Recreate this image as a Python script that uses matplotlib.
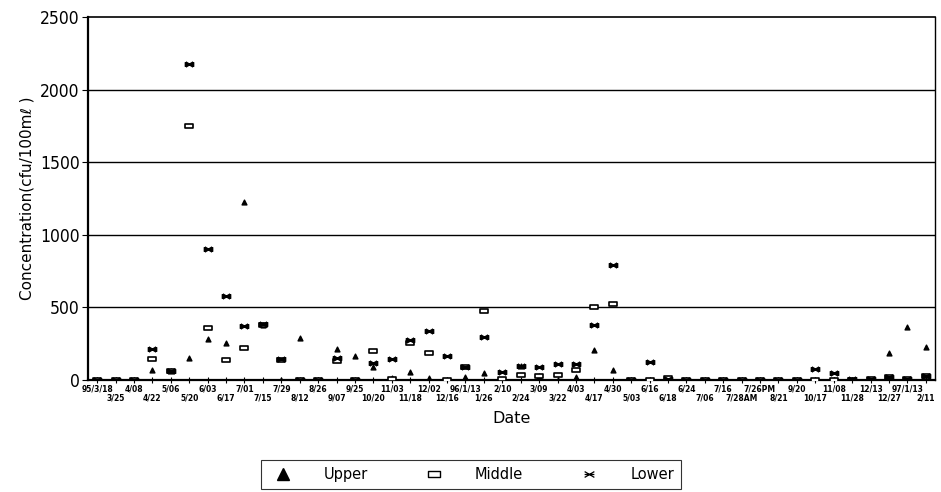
import matplotlib
matplotlib.use("Agg")
import matplotlib.pyplot as plt
from matplotlib.path import Path
import numpy as np

dates = ["95/3/18", "3/25", "4/08", "4/22", "5/06", "5/20", "6/03", "6/17", "7/01", "7/15",
         "7/29", "8/12", "8/26", "9/07", "9/25", "10/20", "11/03", "11/18", "12/02", "12/16",
         "96/1/13", "1/26", "2/10", "2/24", "3/09", "3/22", "4/03", "4/17", "4/30", "5/03",
         "6/16", "6/18", "6/24", "7/06", "7/16", "7/28AM", "7/26PM", "8/21", "9/20", "10/17",
         "11/08", "11/28", "12/13", "12/27", "97/1/13", "2/11"]

upper = [0, 0, 0, 69, 64, 149, 282, 253, 1225, 382,
         0, 291, 0, 216, 165, 90, 15, 55, 12, 3,
         23, 50, 0, 99, 30, 0, 23, 204, 67, 0,
         0, 0, 0, 0, 0, 0, 0, 0, 0, 0,
         0, 0, 0, 184, 367, 229]

middle = [0, 0, 0, 142, 64, 1750, 360, 136, 220, 382,
          140, 0, 0, 131, 0, 200, 10, 253, 188, 3,
          92, 477, 7, 34, 30, 34, 67, 503, 521, 0,
          0, 12, 0, 0, 0, 0, 0, 0, 0, 0,
          0, 3, 8, 23, 9, 30]

lower = [0, 0, 0, 211, 64, 2175, 900, 578, 375, 385,
         145, 0, 0, 149, 0, 117, 145, 275, 337, 165,
         92, 296, 57, 100, 92, 112, 110, 381, 795, 0,
         121, 8, 0, 0, 0, 0, 0, 0, 0, 73,
         48, 5, 10, 23, 9, 25]

y_ticks = [0, 500, 1000, 1500, 2000, 2500]

rect_marker = Path([(-1, -0.6), (1, -0.6), (1, 0.6), (-1, 0.6), (-1, -0.6)],
                   [Path.MOVETO, Path.LINETO, Path.LINETO, Path.LINETO, Path.CLOSEPOLY])
lower_marker = Path([(-1, -0.6), (1, 0.6), (-1, 0.6), (1, -0.6),
                     (-1, 0), (1, 0),
                     (-1, -0.6), (-1, 0.6), (1, -0.6), (1, 0.6)],
                    [Path.MOVETO, Path.LINETO, Path.MOVETO, Path.LINETO,
                     Path.MOVETO, Path.LINETO,
                     Path.MOVETO, Path.LINETO, Path.MOVETO, Path.LINETO])
legend_lower = Path([(-1, -0.6), (1, 0.6), (-1, 0.6), (1, -0.6), (-1, 0), (1, 0)],
                    [Path.MOVETO, Path.LINETO, Path.MOVETO, Path.LINETO,
                     Path.MOVETO, Path.LINETO])

fig = plt.figure(figsize=(9.41, 4.92), dpi=100)
ax = fig.add_axes([0.0935, 0.2276, 0.9001, 0.7378])

x = np.arange(len(dates))
ax.scatter(x, upper, marker="^", s=12, color="black", zorder=3, label="Upper")
ax.scatter(x, middle, marker=rect_marker, s=32, facecolor="white", edgecolor="black",
           linewidths=1.2, zorder=4, label="Middle")
ax.scatter(x, lower, marker=lower_marker, s=30, color="black", linewidths=1.5,
           zorder=5, label="Lower")

ax.set_xlim(-0.5, len(dates) - 0.5)
ax.set_ylim(0, 2500)
ax.set_yticks(y_ticks)
ax.set_yticklabels([str(v) for v in y_ticks], fontsize=12.5, fontstretch="condensed",
                   family=["Liberation Sans Narrow", "DejaVu Sans"])
for v in y_ticks[1:-1]:
    ax.axhline(v, color="black", lw=1.0, zorder=1)

ax.set_xticks(x)
labels = [d if i % 2 == 0 else "\n" + d for i, d in enumerate(dates)]
ax.set_xticklabels(labels, fontsize=5.5, fontweight="bold", linespacing=1.0)
ax.tick_params(axis="x", direction="inout", length=5, width=0.8, pad=1)
ax.tick_params(axis="y", direction="out", length=4, width=0.8, pad=2)

for s in ax.spines.values():
    s.set_color("black")
ax.spines["left"].set_linewidth(1.6)
ax.spines["bottom"].set_linewidth(1.6)
ax.spines["top"].set_linewidth(1.2)
ax.spines["right"].set_linewidth(1.0)

ax.set_ylabel("Concentration(cfu/100m\u2113 )", fontsize=11,
              family=["Liberation Sans Narrow", "DejaVu Sans"], labelpad=4)
ax.set_xlabel("Date", fontsize=11.5, labelpad=6)

h = [plt.Line2D([], [], marker="^", ls="none", color="black", markersize=8),
     plt.Line2D([], [], marker=rect_marker, ls="none", markerfacecolor="white",
                markeredgecolor="black", markersize=8, markeredgewidth=1),
     plt.Line2D([], [], marker=legend_lower, ls="none", color="black",
                markersize=7, markeredgewidth=0.9)]
leg = fig.legend(h, ["Upper", "Middle", "Lower"], loc="upper left",
                 bbox_to_anchor=(0.277, 0.066, 0.447, 0.0), mode="expand", ncol=3,
                 frameon=True, fancybox=False, fontsize=10.5, handletextpad=1.8,
                 borderpad=0.5, borderaxespad=0, edgecolor="black")
leg.get_frame().set_linewidth(0.8)

fig.savefig("out.png", dpi=100)
